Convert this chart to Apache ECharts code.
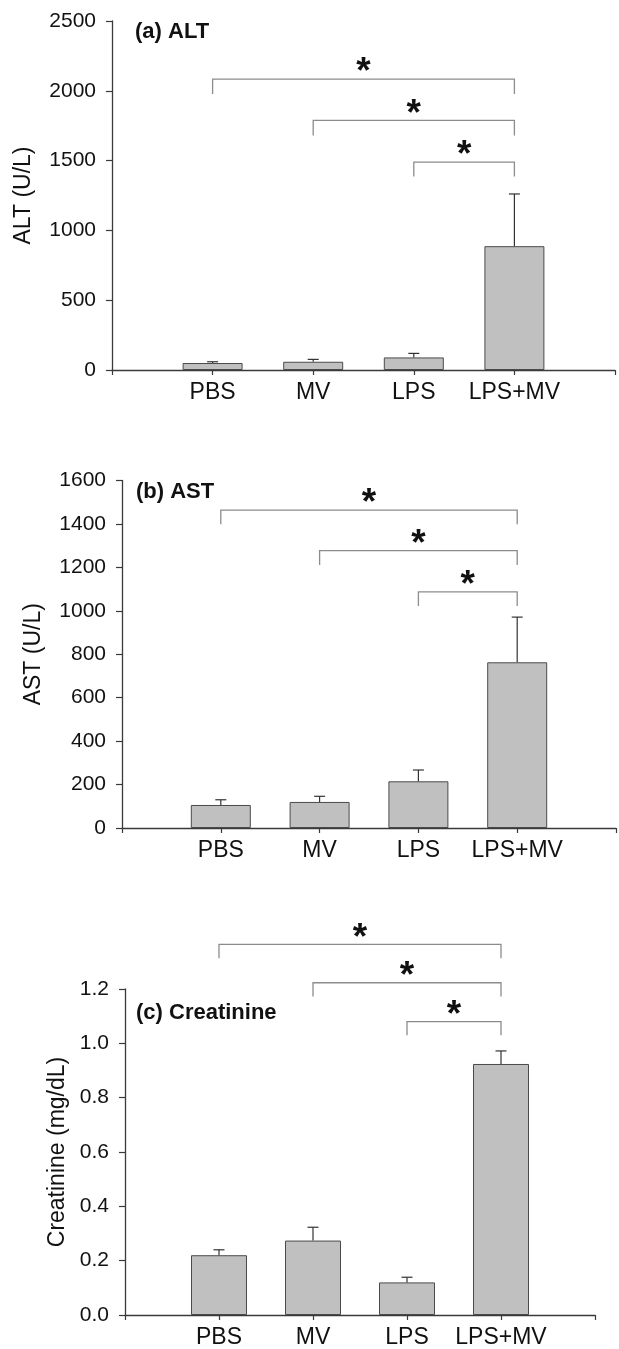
<!DOCTYPE html>
<html><head><meta charset="utf-8">
<script src="https://cdn.jsdelivr.net/npm/echarts@6/dist/echarts.min.js"></script>
<style>html,body{margin:0;padding:0;background:#fff}#c{width:619px;height:1349px}</style>
</head><body><div id="c"></div><script>
// ---------- data ----------
const categories = ['PBS', 'MV', 'LPS', 'LPS+MV'];

const altMean = [50, 59, 90, 887];
const altSE   = [9, 17, 29, 374];
const altTicks = [0, 500, 1000, 1500, 2000, 2500];
// [from, to, bracket level, leg end]
const altComparisons = [['PBS', 'LPS+MV', 2084, 1977], ['MV', 'LPS+MV', 1788, 1680], ['LPS', 'LPS+MV', 1489, 1386]];

const astMean = [106, 120, 215, 763];
const astSE   = [24, 26, 52, 208];
const astTicks = [0, 200, 400, 600, 800, 1000, 1200, 1400, 1600];
const astComparisons = [['PBS', 'LPS+MV', 1464, 1398], ['MV', 'LPS+MV', 1277, 1211], ['LPS', 'LPS+MV', 1087, 1022]];

const creatMean = [0.220, 0.274, 0.120, 0.924];
const creatSE   = [0.020, 0.049, 0.019, 0.048];
const creatTicks = [0.0, 0.2, 0.4, 0.6, 0.8, 1.0, 1.2];
const creatComparisons = [['PBS', 'LPS+MV', 1.364, 1.313], ['MV', 'LPS+MV', 1.223, 1.172], ['LPS', 'LPS+MV', 1.080, 1.030]];

// ---------- layout / style ----------
const FONT = '"Liberation Sans", Arial, sans-serif';
const AXIS = '#3a3a3a';
const panels = [
  { grid: { left: 112, top: 21, width: 503, height: 349 }, mean: altMean, se: altSE, ticks: altTicks, comps: altComparisons,
    yName: 'ALT (U/L)', nameGap: 77, title: '(a) ALT', tx: 135, ty: 31.7, barWidth: 60, dec: 0 },
  { grid: { left: 122, top: 480.5, width: 500, height: 347.5 }, mean: astMean, se: astSE, ticks: astTicks, comps: astComparisons,
    yName: 'AST (U/L)', nameGap: 77, title: '(b) AST', tx: 136, ty: 491.7, barWidth: 60, dec: 0 },
  { grid: { left: 125, top: 989, width: 470, height: 327 }, mean: creatMean, se: creatSE, ticks: creatTicks, comps: creatComparisons,
    yName: 'Creatinine (mg/dL)', nameGap: 50, title: '(c) Creatinine', tx: 136, ty: 1012.7, barWidth: 56, dec: 1 }
];

function errRender(params, api) {
  const x = api.value(0), m = api.value(1), e = api.value(2);
  const p0 = api.coord([x, m]), p1 = api.coord([x, m + e]);
  const hw = 5.5;
  return { type: 'group', children: [
    { type: 'line', shape: { x1: p0[0], y1: p0[1], x2: p1[0], y2: p1[1] }, style: { stroke: '#333', lineWidth: 1.2 } },
    { type: 'line', shape: { x1: p1[0] - hw, y1: p1[1], x2: p1[0] + hw, y2: p1[1] }, style: { stroke: '#333', lineWidth: 1.2 } }
  ]};
}
function bracketRender(params, api) {
  const x1 = api.value(0), x2 = api.value(1), lvl = api.value(2), leg = api.value(3);
  const a = api.coord([x1, lvl]), b = api.coord([x2, lvl]);
  const a2 = api.coord([x1, leg]), b2 = api.coord([x2, leg]);
  return { type: 'group', children: [
    { type: 'polyline', shape: { points: [a2, a, b, b2] }, style: { stroke: '#8c8c8c', lineWidth: 1.3, fill: null } },
    { type: 'text', x: (a[0] + b[0]) / 2, y: a[1] - 6,
      style: { text: '*', font: 'bold 37px ' + FONT, fill: '#111', align: 'center', verticalAlign: 'middle', textAlign: 'center', textVerticalAlign: 'middle' } }
  ]};
}

const option = { animation: false, backgroundColor: '#fff', grid: [], xAxis: [], yAxis: [], series: [], graphic: [] };
panels.forEach((p, i) => {
  option.grid.push(p.grid);
  option.xAxis.push({
    type: 'value', gridIndex: i, min: 0, max: categories.length + 1, interval: 1,
    axisLine: { lineStyle: { color: AXIS, width: 1.3 } },
    axisTick: { length: 5, lineStyle: { color: AXIS, width: 1.2 } },
    splitLine: { show: false },
    axisLabel: { formatter: v => categories[v - 1] || '', fontSize: 23, color: '#111', fontFamily: FONT, margin: 11 }
  });
  const t = p.ticks;
  option.yAxis.push({
    type: 'value', gridIndex: i, min: t[0], max: t[t.length - 1], interval: t[1] - t[0],
    name: p.yName, nameLocation: 'middle', nameGap: p.nameGap, nameRotate: 90,
    nameTextStyle: { fontSize: 23, color: '#111', fontFamily: FONT },
    axisLine: { show: true, lineStyle: { color: AXIS, width: 1.3 } },
    axisTick: { show: true, length: 6, lineStyle: { color: AXIS, width: 1.2 } },
    splitLine: { show: false },
    axisLabel: { formatter: v => v.toFixed(p.dec), fontSize: 21, color: '#111', fontFamily: FONT, margin: 16 }
  });
  option.series.push({
    type: 'bar', xAxisIndex: i, yAxisIndex: i, barWidth: p.barWidth,
    itemStyle: { color: '#c0c0c0', borderColor: '#4a4a4a', borderWidth: 1 },
    data: p.mean.map((m, k) => [k + 1, m])
  });
  option.series.push({
    type: 'custom', xAxisIndex: i, yAxisIndex: i, renderItem: errRender, clip: false, z: 3,
    data: p.mean.map((m, k) => [k + 1, m, p.se[k]])
  });
  option.series.push({
    type: 'custom', xAxisIndex: i, yAxisIndex: i, renderItem: bracketRender, clip: false, z: 3,
    data: p.comps.map(c => [categories.indexOf(c[0]) + 1, categories.indexOf(c[1]) + 1, c[2], c[3]])
  });
  option.graphic.push({
    type: 'text', x: p.tx, y: p.ty,
    style: { text: p.title, font: 'bold 22px ' + FONT, fill: '#111', verticalAlign: 'middle', textVerticalAlign: 'middle' }
  });
});

const chart = echarts.init(document.getElementById('c'), null, { renderer: 'canvas' });
chart.setOption(option);
</script></body></html>
